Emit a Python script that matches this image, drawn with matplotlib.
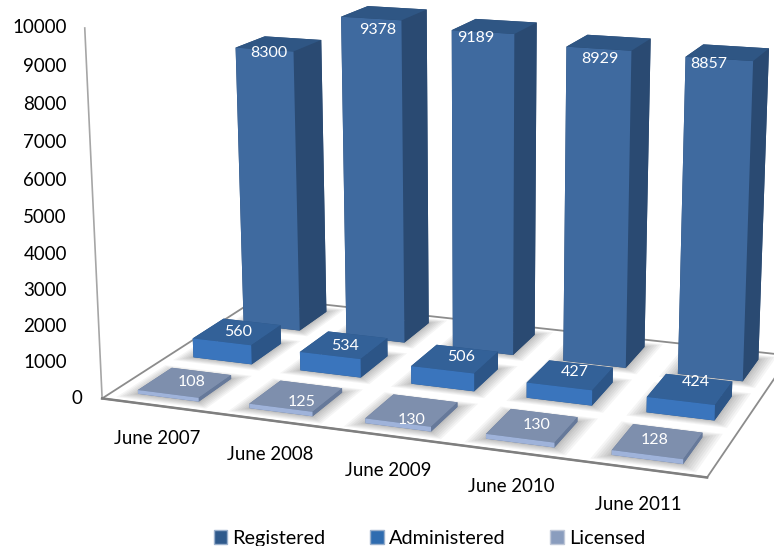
import numpy as np
import matplotlib
matplotlib.use('Agg')
import matplotlib.pyplot as plt
from matplotlib.patches import Patch
from matplotlib.transforms import blended_transform_factory
from mpl_toolkits.mplot3d import proj3d
from mpl_toolkits.mplot3d.art3d import Poly3DCollection

plt.rcParams['font.family'] = ['Lato', 'DejaVu Sans']

# data
years = ['June 2007', 'June 2008', 'June 2009', 'June 2010', 'June 2011']
registered = [8300, 9378, 9189, 8929, 8857]
administered = [560, 534, 506, 427, 424]
licensed = [108, 125, 130, 130, 128]
z_ticks = [0, 1000, 2000, 3000, 4000, 5000, 6000, 7000, 8000, 9000, 10000]

# camera worked out from the floor corners in the picture
W, H = 774, 546
fig = plt.figure(figsize=(W / 100, H / 100), dpi=100)
ax = fig.add_axes([60.7 / W, 65.6 / H, 1, 1], projection='3d')
ax.computed_zorder = False
ax.set_xlim(0, 5)
ax.set_ylim(0, 3)
ax.set_zlim(0, 10000)
ax.view_init(14.4767, -69.6444, 0.1804)
ax.set_proj_type('persp', focal_length=0.7245)
ax.set_box_aspect((1.0181, 0.6003, 0.6166), zoom=1.4310)
ax.set_axis_off()
M = ax.get_proj()

# floor outline and the upright axis
line = dict(color='#8c8c8c', lw=1.3, zorder=0)
ax.plot([0, 0], [0, 0], [0, 10000], color='#a6a6a6', lw=1.2, zorder=0)
ax.plot([0, 0, 5, 5, 0], [0, 3, 3, 0, 0], [0, 0, 0, 0, 0], **line)
ax.plot([0, 5], [0, 0], [0, 0], color='#7f7f7f', lw=1.8, zorder=0.5)

bar_w = 0.55
bar_d = 0.6
x_pos = np.arange(5) + 0.22


# text anchored at a 3d point, nudged in pixels
def label3d(x, y, z, s, dx=0, dy=0, **kw):
    px, py, _ = proj3d.proj_transform(x, y, z, M)
    ax.annotate(s, (px, py), xytext=(dx, dy), textcoords='offset pixels',
                ha='center', va='center', annotation_clip=False, **kw)


def draw_series(values, row, front, top, side, z, label_y, label_dz, nudges):
    y0 = row + 0.2
    n = len(values)
    # soft shadow on the floor
    for grow in [0.13, 0.11, 0.09, 0.07, 0.05, 0.03, 0.015]:
        for x in x_pos:
            verts = [[(x - grow, y0 - grow, 0), (x + bar_w + grow, y0 - grow, 0),
                      (x + bar_w + grow, y0 + bar_d + grow, 0), (x - grow, y0 + bar_d + grow, 0)]]
            ax.add_collection3d(Poly3DCollection(verts, facecolor='k', edgecolor='none',
                                                 alpha=0.04, zorder=z - 0.5))
    # faces: bottom, top, back, front (-y, +y), left, right
    colors = [side, top, front, side, side, side] * n
    ax.bar3d(x_pos, np.full(n, y0), np.zeros(n), bar_w, bar_d, values,
             color=colors, shade=False, zorder=z, edgecolor='none')
    for x, v, (dx, dy) in zip(x_pos, values, nudges):
        label3d(x + bar_w * 0.5, y0 + bar_d * label_y, v + label_dz, str(v), dx, dy,
                color='white', fontsize=11.5, zorder=z + 5)


# label nudges, Excel does not centre them evenly
nudge_reg = [(3, 0), (5, -8), (-8, -2), (0, -7), (-11, -1)]
nudge_adm = [(1, 0), (1, -1), (6, 2), (5, 3), (6, 7)]
nudge_lic = [(8, 2), (7, -5), (1, -9), (6, 2), (-2, 3)]

draw_series(registered, 2, '#3f6a9f', '#2f5684', '#2a4a72', 3, 0.05, -120, nudge_reg)
draw_series(administered, 1, '#3a75bd', '#336198', '#2c5587', 5, 0.5, 0, nudge_adm)
draw_series(licensed, 0, '#9fb3da', '#7e8fad', '#66799a', 7, 0.45, 0, nudge_lic)

# category labels under the front edge
for i, name in enumerate(years):
    label3d(i + 0.49, 0, -930, name, color='k', fontsize=13.4, zorder=20)

# value labels on the upright axis, kept straight like the original
tr = blended_transform_factory(fig.transFigure, ax.transData)
for v in z_ticks:
    _, yy, _ = proj3d.proj_transform(0, 0, v, M)
    xx = 82 if v == 0 else 67
    ax.text2D(xx / W, yy, str(v), transform=tr, fontsize=13.5, color='k',
              ha='right', va='center', zorder=20)

# axes box is smaller than the drawing, so nothing should clip to it
for art in ax.get_children():
    art.set_clip_on(False)

handles = [Patch(facecolor='#2f5a8c', edgecolor='#9ab0cc', label='Registered'),
           Patch(facecolor='#2f6cb0', edgecolor='#9ab0cc', label='Administered'),
           Patch(facecolor='#8a9dbe', edgecolor='#c0c8d8', label='Licensed')]
fig.legend(handles=handles, ncol=3, loc='lower center', bbox_to_anchor=(0.555, -0.034),
           frameon=False, fontsize=14.3, handlelength=0.7, handleheight=0.7,
           handletextpad=0.25, columnspacing=2.25)

fig.savefig('out.png', dpi=100)
